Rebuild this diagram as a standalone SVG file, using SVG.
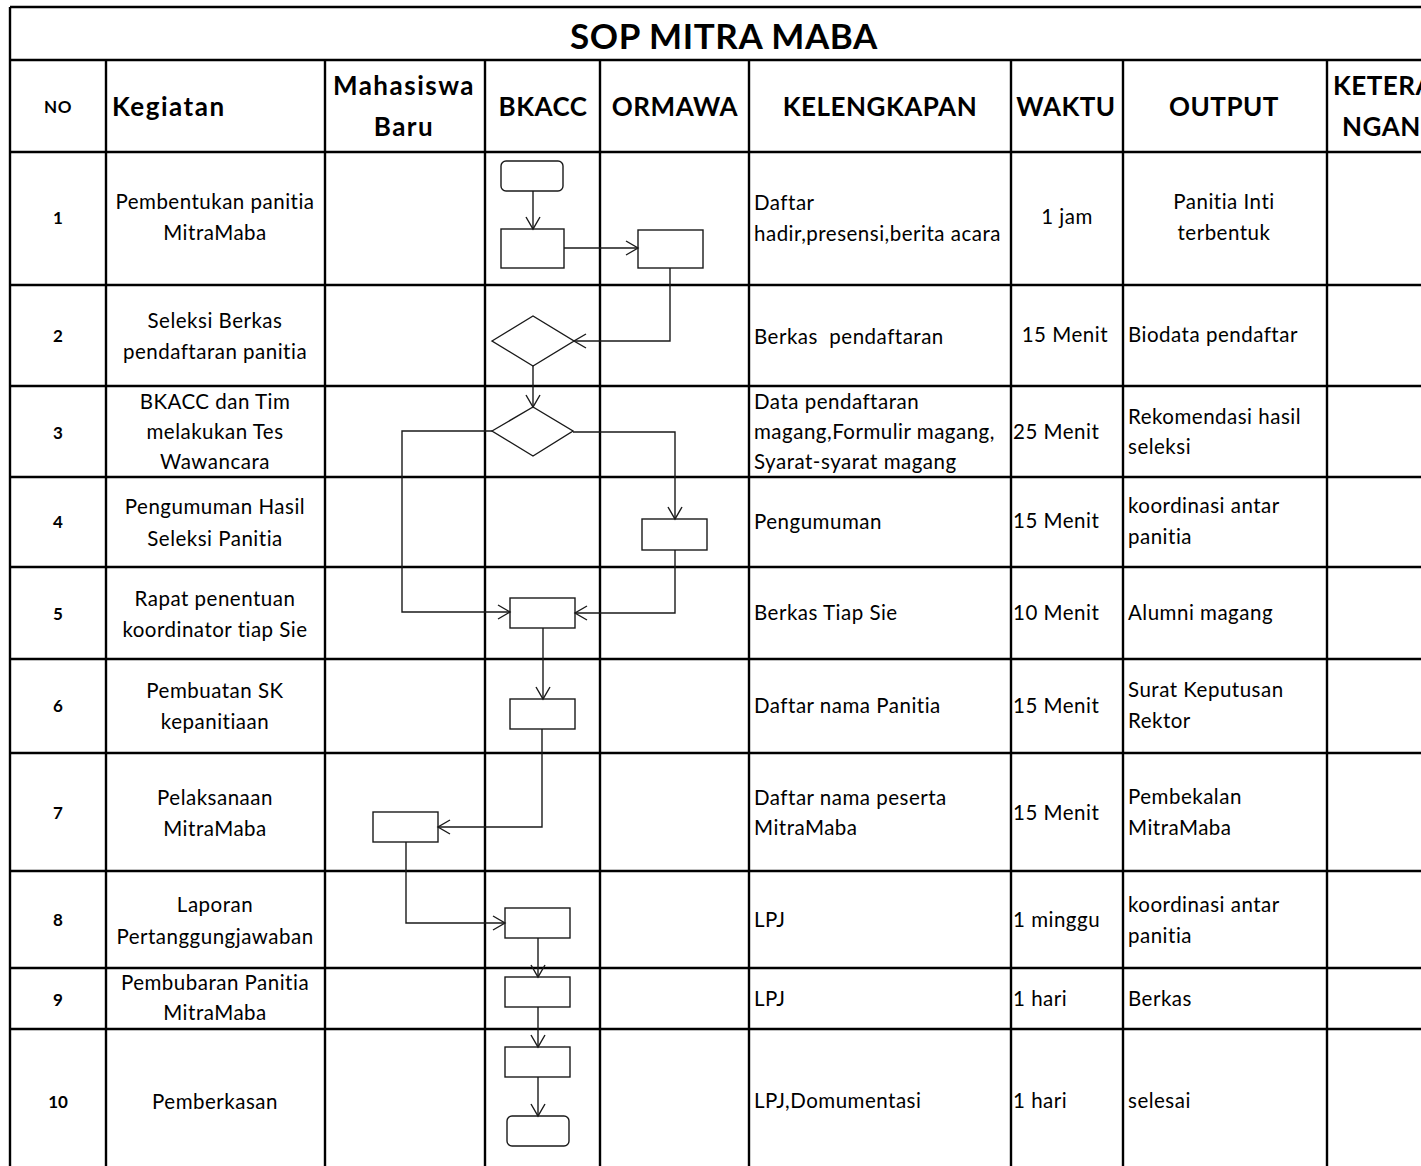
<svg xmlns="http://www.w3.org/2000/svg" width="1421" height="1166" viewBox="0 0 1421 1166">
  <defs>
    <marker id="arrow" markerUnits="userSpaceOnUse" markerWidth="16" markerHeight="18" viewBox="0 0 16 18" refX="14" refY="9" orient="auto">
      <path d="M2,2 L14,9 L2,16" fill="none" stroke="#1a1a1a" stroke-width="1.4"/>
    </marker>
  </defs>
  <style>
    .grid { stroke: #000; stroke-width: 2.4; fill: none; }
    .shape { fill: #fff; stroke: #1a1a1a; stroke-width: 1.4; }
    .flow { fill: none; stroke: #1a1a1a; stroke-width: 1.4; marker-end: url(#arrow); }
    text { font-family: Lato, "Liberation Sans", sans-serif; fill: #000; font-size: 20.5px; letter-spacing: 0.5px; }
    .title { font-size: 35px; font-weight: bold; text-anchor: middle; letter-spacing: 0.6px; }
    .hd { font-size: 26px; font-weight: bold; letter-spacing: 0.5px; }
    .hl { letter-spacing: 1.5px; }
    .hd-s { font-size: 17px; font-weight: bold; text-anchor: middle; letter-spacing: 0.5px; }
    .num { font-size: 17px; font-weight: bold; text-anchor: middle; letter-spacing: 0; }
    .c { text-anchor: middle; }
    .pre { white-space: pre; }
  </style>

  <rect x="0" y="0" width="1421" height="1166" fill="#fff"/>

  <!-- table grid -->
  <g id="grid">
    <path class="grid" d="M10,7 H1421 M10,60 H1421 M10,152 H1421 M10,285 H1421 M10,386 H1421 M10,477 H1421 M10,567 H1421 M10,659 H1421 M10,753 H1421 M10,871 H1421 M10,968 H1421 M10,1029 H1421"/>
    <path class="grid" d="M10,7 V1166 M106,60 V1166 M325,60 V1166 M485,60 V1166 M600,60 V1166 M749,60 V1166 M1011,60 V1166 M1123,60 V1166 M1327,60 V1166"/>
  </g>

  <!-- title and column headings -->
  <g id="header">
    <text class="title" x="724" y="49">SOP MITRA MABA</text>
    <text class="hd-s" x="58" y="113">NO</text>
    <text class="hd hl" x="112" y="116">Kegiatan</text>
    <text class="hd hl c" x="404" y="95">Mahasiswa</text>
    <text class="hd hl c" x="404" y="136">Baru</text>
    <text class="hd c" x="543" y="116">BKACC</text>
    <text class="hd c" x="675" y="116">ORMAWA</text>
    <text class="hd c" x="880" y="116">KELENGKAPAN</text>
    <text class="hd c" x="1066" y="116">WAKTU</text>
    <text class="hd c" x="1224" y="116">OUTPUT</text>
    <text class="hd" x="1333" y="95">KETERA</text>
    <text class="hd" x="1342" y="136">NGAN</text>
  </g>

  <!-- row numbers -->
  <g id="numbers">
    <text class="num" x="58" y="224">1</text>
    <text class="num" x="58" y="342">2</text>
    <text class="num" x="58" y="439">3</text>
    <text class="num" x="58" y="528">4</text>
    <text class="num" x="58" y="620">5</text>
    <text class="num" x="58" y="712">6</text>
    <text class="num" x="58" y="819">7</text>
    <text class="num" x="58" y="926">8</text>
    <text class="num" x="58" y="1006">9</text>
    <text class="num" x="58" y="1108">10</text>
  </g>

  <!-- Kegiatan column -->
  <g id="kegiatan">
    <text class="c" x="215" y="209">Pembentukan panitia</text>
    <text class="c" x="215" y="240">MitraMaba</text>
    <text class="c" x="215" y="328">Seleksi Berkas</text>
    <text class="c" x="215" y="359">pendaftaran panitia</text>
    <text class="c" x="215" y="409">BKACC dan Tim</text>
    <text class="c" x="215" y="439">melakukan Tes</text>
    <text class="c" x="215" y="469">Wawancara</text>
    <text class="c" x="215" y="514">Pengumuman Hasil</text>
    <text class="c" x="215" y="546">Seleksi Panitia</text>
    <text class="c" x="215" y="606">Rapat penentuan</text>
    <text class="c" x="215" y="637">koordinator tiap Sie</text>
    <text class="c" x="215" y="698">Pembuatan SK</text>
    <text class="c" x="215" y="729">kepanitiaan</text>
    <text class="c" x="215" y="805">Pelaksanaan</text>
    <text class="c" x="215" y="836">MitraMaba</text>
    <text class="c" x="215" y="912">Laporan</text>
    <text class="c" x="215" y="944">Pertanggungjawaban</text>
    <text class="c" x="215" y="990">Pembubaran Panitia</text>
    <text class="c" x="215" y="1020">MitraMaba</text>
    <text class="c" x="215" y="1109">Pemberkasan</text>
  </g>

  <!-- Kelengkapan column -->
  <g id="kelengkapan">
    <text x="754" y="210">Daftar</text>
    <text x="754" y="241">hadir,presensi,berita acara</text>
    <text class="pre" x="754" y="344">Berkas  pendaftaran</text>
    <text x="754" y="409">Data pendaftaran</text>
    <text x="754" y="439">magang,Formulir magang,</text>
    <text x="754" y="469">Syarat-syarat magang</text>
    <text x="754" y="529">Pengumuman</text>
    <text x="754" y="620">Berkas Tiap Sie</text>
    <text x="754" y="713">Daftar nama Panitia</text>
    <text x="754" y="805">Daftar nama peserta</text>
    <text x="754" y="835">MitraMaba</text>
    <text x="754" y="927">LPJ</text>
    <text x="754" y="1006">LPJ</text>
    <text x="754" y="1108">LPJ,Domumentasi</text>
  </g>

  <!-- Waktu column -->
  <g id="waktu">
    <text class="c" x="1067" y="224">1 jam</text>
    <text x="1108" y="342" text-anchor="end">15 Menit</text>
    <text x="1013" y="439">25 Menit</text>
    <text x="1013" y="528">15 Menit</text>
    <text x="1013" y="620">10 Menit</text>
    <text x="1013" y="713">15 Menit</text>
    <text x="1013" y="820">15 Menit</text>
    <text x="1013" y="927">1 minggu</text>
    <text x="1013" y="1006">1 hari</text>
    <text x="1013" y="1108">1 hari</text>
  </g>

  <!-- Output column -->
  <g id="output">
    <text class="c" x="1224" y="209">Panitia Inti</text>
    <text class="c" x="1224" y="240">terbentuk</text>
    <text x="1128" y="342">Biodata pendaftar</text>
    <text x="1128" y="424">Rekomendasi hasil</text>
    <text x="1128" y="454">seleksi</text>
    <text x="1128" y="513">koordinasi antar</text>
    <text x="1128" y="544">panitia</text>
    <text x="1128" y="620">Alumni magang</text>
    <text x="1128" y="697">Surat Keputusan</text>
    <text x="1128" y="728">Rektor</text>
    <text x="1128" y="804">Pembekalan</text>
    <text x="1128" y="835">MitraMaba</text>
    <text x="1128" y="912">koordinasi antar</text>
    <text x="1128" y="943">panitia</text>
    <text x="1128" y="1006">Berkas</text>
    <text x="1128" y="1108">selesai</text>
  </g>

  <!-- flow nodes -->
  <g id="n-start"><rect class="shape" x="501" y="161" width="62" height="30" rx="5"/></g>
  <g id="n-form"><rect class="shape" x="501" y="229" width="63" height="39"/></g>
  <g id="n-ormawa"><rect class="shape" x="638" y="230" width="65" height="38"/></g>
  <g id="n-select"><polygon class="shape" points="492,341 533,316 574,341 533,366"/></g>
  <g id="n-interview"><polygon class="shape" points="492,431 533,407 573,431 533,456"/></g>
  <g id="n-announce"><rect class="shape" x="642" y="519" width="65" height="31"/></g>
  <g id="n-meeting"><rect class="shape" x="510" y="598" width="65" height="30"/></g>
  <g id="n-sk"><rect class="shape" x="510" y="699" width="65" height="30"/></g>
  <g id="n-execute"><rect class="shape" x="373" y="812" width="65" height="30"/></g>
  <g id="n-report"><rect class="shape" x="505" y="908" width="65" height="30"/></g>
  <g id="n-disband"><rect class="shape" x="505" y="977" width="65" height="30"/></g>
  <g id="n-archive"><rect class="shape" x="505" y="1047" width="65" height="30"/></g>
  <g id="n-end"><rect class="shape" x="507" y="1116" width="62" height="30" rx="5"/></g>

  <!-- connectors -->
  <g id="connectors">
    <path class="flow" d="M533,191 V229"/>
    <path class="flow" d="M564,248 H638"/>
    <path class="flow" d="M670,268 V341 H574"/>
    <path class="flow" d="M533,366 V407"/>
    <path class="flow" d="M492,431 H402 V612 H510"/>
    <path class="flow" d="M573,432 H675 V519"/>
    <path class="flow" d="M675,550 V613 H575"/>
    <path class="flow" d="M543,628 V699"/>
    <path class="flow" d="M542,729 V827 H438"/>
    <path class="flow" d="M406,842 V923 H505"/>
    <path class="flow" d="M538,938 V977"/>
    <path class="flow" d="M538,1007 V1047"/>
    <path class="flow" d="M538,1077 V1116"/>
  </g>
</svg>
